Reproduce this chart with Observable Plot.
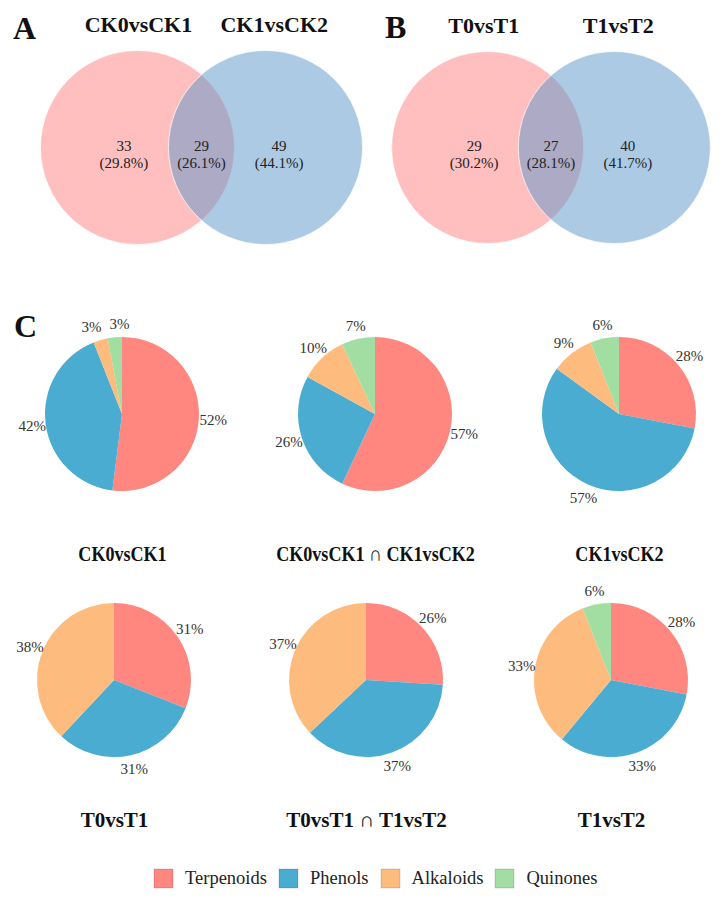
<!DOCTYPE html>
<html>
<head>
<meta charset="utf-8">
<script src="https://cdn.jsdelivr.net/npm/d3@7"></script>
<script src="https://cdn.jsdelivr.net/npm/@observablehq/plot@0.6"></script>
<style>
  body { margin: 0; background: #fff; }
  #fig { position: relative; width: 722px; height: 903px; overflow: hidden;
         font-family: "Liberation Serif", "Times New Roman", serif; color: #111; }
  .panel { position: absolute; }
  .panel svg { overflow: visible; max-width: none !important; height: auto; }
  .letter { position: absolute; font-weight: bold; font-size: 32px; line-height: 32px; }
  #legend { position: absolute; left: 154px; top: 862px; width: 560px; }
  #legend div { font-family: "Liberation Serif", "Times New Roman", serif !important;
                font-size: 18.5px !important; color: #222 !important; margin: 0 !important; }
  #legend span { margin-right: 12px !important; }
  #legend span > svg { margin-right: 12px !important; overflow: visible; }
  #legend rect { stroke: rgba(0,0,0,0.18); stroke-width: 0.8px; }
</style>
</head>
<body>
<div id="fig"></div>
<script>
// ---- metabolite classes ----
const categories = ["Terpenoids", "Phenols", "Alkaloids", "Quinones"];
const categoryColors = ["#FF877F", "#4BACD1", "#FDBC7E", "#A2DEA1"];

// ---- Venn diagram A: CK comparisons (left only, shared, right only) ----
const vennASets = ["CK0vsCK1", "CK1vsCK2"];
const vennACounts = [33, 29, 49];
const vennAPercents = ["29.8%", "26.1%", "44.1%"];

// ---- Venn diagram B: T comparisons ----
const vennBSets = ["T0vsT1", "T1vsT2"];
const vennBCounts = [29, 27, 40];
const vennBPercents = ["30.2%", "28.1%", "41.7%"];

// ---- class composition (%) for each set of differential metabolites ----
const pieTitles = ["CK0vsCK1", "CK0vsCK1 \u2229 CK1vsCK2", "CK1vsCK2",
                   "T0vsT1", "T0vsT1 \u2229 T1vsT2", "T1vsT2"];
const terpenoids = [52, 57, 28, 31, 26, 28];
const phenols    = [42, 26, 57, 31, 37, 33];
const alkaloids  = [3, 10, 9, 38, 37, 33];
const quinones   = [3, 7, 6, 0, 0, 6];

const classSeries = [terpenoids, phenols, alkaloids, quinones];
const vennFills = ["#FF7F7F", "#5A96CA"];
const FONT = "Liberation Serif, Times New Roman, serif";

const fig = document.getElementById("fig");
const color = Plot.scale({color: {type: "ordinal", domain: categories, range: categoryColors}});

function place(node, left, top, width, height) {
  const wrap = document.createElement("div");
  wrap.className = "panel";
  wrap.style.left = left + "px";
  wrap.style.top = top + "px";
  wrap.style.width = width + "px";
  wrap.style.height = height + "px";
  wrap.appendChild(node);
  fig.appendChild(wrap);
  return wrap;
}

function letter(txt, left, top) {
  const d = document.createElement("div");
  d.className = "letter";
  d.textContent = txt;
  d.style.left = left + "px";
  d.style.top = top + "px";
  fig.appendChild(d);
}

// Two-set Venn diagram; unit = circle radius, centred between the two circles
function venn({sets, counts, percents, width, height, cx, cy, k, titleX}) {
  const half = 0.66;
  const circles = sets.map((s, i) => ({set: s, x: i ? half : -half, fill: vennFills[i]}));
  const regions = counts.map((c, i) => ({x: [-0.8, 0, 0.8][i], label: `${c}\n(${percents[i]})`}));
  const titles = sets.map((s, i) => ({x: titleX[i], set: s}));
  return Plot.plot({
    width, height, margin: 0,
    style: {fontFamily: FONT, background: "transparent"},
    x: {domain: [-1, 1], range: [cx - k, cx + k], axis: null},
    y: {domain: [-1, 1], range: [cy + k, cy - k], axis: null},
    color: {type: "identity"},
    marks: [
      Plot.dot(circles, {x: "x", y: 0, r: k, fill: "fill", fillOpacity: 0.5,
                         stroke: "white", strokeOpacity: 0.7, strokeWidth: 1}),
      Plot.text(regions, {x: "x", y: -0.065, text: "label", fontSize: 15, fontFamily: FONT,
                          lineHeight: 1.13, fill: "#222"}),
      Plot.text(titles, {x: "x", y: 1.19, text: "set", fontSize: 22, fontWeight: "bold",
                         fontFamily: FONT, lineAnchor: "bottom", fill: "#111"})
    ]
  });
}

const vA = venn({sets: vennASets, counts: vennACounts, percents: vennAPercents,
                 width: 361, height: 260, cx: 201, cy: 147, k: 97, titleX: [-0.65, 0.75]});
place(vA, 0, 0, 361, 260);
const vB = venn({sets: vennBSets, counts: vennBCounts, percents: vennBPercents,
                 width: 361, height: 260, cx: 189.5, cy: 147, k: 96, titleX: [-0.70, 0.70]});
place(vB, 361, 0, 361, 260);

letter("A", 13, 12);
letter("B", 385, 11);
letter("C", 14, 310);

// Pie charts: wedges start at 12 o'clock and run clockwise
const pieCentres = [[122, 414], [375, 414], [619, 414], [114, 680], [366, 680], [611, 680]];
const R = 77, W = 250, H = 280, OX = 125, OY = 115;
const LABEL_R = 1.18;

// label anchors at the mid-angle of each wedge, with neighbouring labels pushed apart
function labelAnchors(arcs) {
  const pts = arcs.map(a => {
    const m = (a.startAngle + a.endAngle) / 2;
    return {a, x: LABEL_R * Math.sin(m), y: LABEL_R * Math.cos(m)};
  });
  const minDx = 28 / R, rowTol = 14 / R;
  for (let it = 0; it < 10; ++it) {
    for (let i = 0; i < pts.length; ++i) {
      for (let j = i + 1; j < pts.length; ++j) {
        const p = pts[i], q = pts[j];
        const dx = q.x - p.x;
        if (Math.abs(q.y - p.y) < rowTol && Math.abs(dx) < minDx) {
          const push = (minDx - Math.abs(dx)) / 2 * (dx >= 0 ? 1 : -1);
          p.x -= push; q.x += push;
        }
      }
    }
  }
  return pts;
}

function pie(i) {
  const rows = categories.map((c, j) => ({category: c, value: classSeries[j][i]}))
                         .filter(d => d.value > 0);
  const arcs = d3.pie().sort(null).value(d => d.value)(rows);
  const wedges = (index, scales) => {
    const sx = scales.x, sy = scales.y;
    const r = sx(1) - sx(0);
    const g = d3.create("svg:g")
      .attr("aria-label", "wedges")
      .attr("transform", `translate(${sx(0)},${sy(0)})`);
    const arc = d3.arc().innerRadius(0).outerRadius(r);
    g.selectAll("path").data(arcs).join("path")
      .attr("d", arc)
      .attr("fill", d => color.apply(d.data.category));
    return g.node();
  };
  return Plot.plot({
    width: W, height: H, margin: 0,
    style: {fontFamily: FONT, background: "transparent"},
    x: {domain: [-1, 1], range: [OX - R, OX + R], axis: null},
    y: {domain: [-1, 1], range: [OY + R, OY - R], axis: null},
    marks: [
      wedges,
      Plot.text(labelAnchors(arcs), {x: "x", y: "y", text: p => `${p.a.data.value}%`,
                                     fontSize: 15, fontFamily: FONT, fill: "#333"}),
      Plot.text([pieTitles[i]], {x: 0, y: -1.82, text: d => d, fontSize: 21, fontFamily: FONT,
                                 fontWeight: "bold", fill: "#111"})
    ]
  });
}

pieCentres.forEach(([cx, cy], i) => {
  const p = pie(i);
  place(p, cx - OX, cy - OY, W, H);
  // the upper row of titles is set in a narrower face
  if (i < 3) {
    p.querySelectorAll("text").forEach(t => {
      if (t.textContent !== pieTitles[i]) return;
      const len = t.getComputedTextLength();
      t.setAttribute("textLength", (len * 0.86).toFixed(1));
      t.setAttribute("lengthAdjust", "spacingAndGlyphs");
    });
  }
});

// Legend
const leg = Plot.legend({color: {type: "ordinal", domain: categories, range: categoryColors},
                         swatchSize: 19, className: "leg"});
const legWrap = document.createElement("div");
legWrap.id = "legend";
legWrap.appendChild(leg);
fig.appendChild(legWrap);
</script>
</body>
</html>
